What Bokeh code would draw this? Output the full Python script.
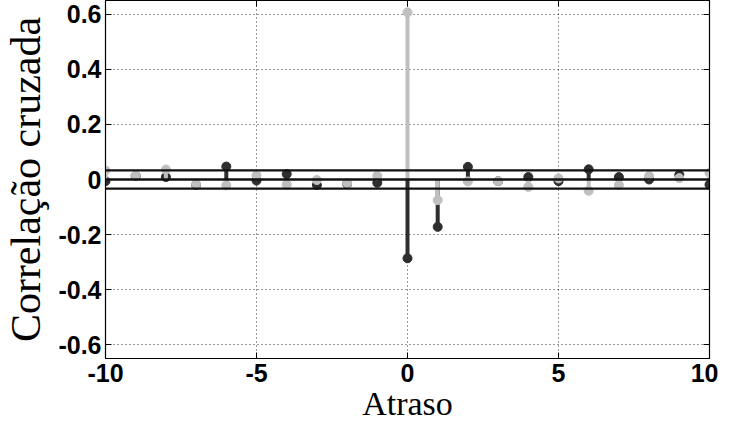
from bokeh.plotting import figure
from bokeh.models import Range1d, LinearAxis, FixedTicker, Span, ColumnDataSource
from bokeh.embed import file_html
from bokeh.resources import INLINE

lags = list(range(-10, 11))
dark_vals = [-0.006, 0.013, 0.009, -0.020, 0.047, -0.004, 0.020, -0.020, -0.016, -0.012,
             -0.286, -0.172, 0.046, -0.006, 0.009, -0.006, 0.037, 0.009, 0.000, 0.017, -0.019]
light_vals = [0.033, 0.015, 0.036, -0.018, -0.021, 0.015, -0.018, -0.002, -0.014, 0.013,
              0.607, -0.075, -0.007, -0.006, -0.027, 0.004, -0.041, -0.020, 0.013, 0.005, 0.024]
conf_bounds = [0.033, 0.0, -0.033]
x_ticks = [-10, -5, 0, 5, 10]
y_ticks = [-0.6, -0.4, -0.2, 0, 0.2, 0.4, 0.6]
y_tick_labels = {-0.6: "-0.6", -0.4: "-0.4", -0.2: "-0.2", 0: "0", 0.2: "0.2", 0.4: "0.4", 0.6: "0.6"}
x_tick_labels = {-10: "-10", -5: "-5", 0: "0", 5: "5", 10: "10"}

p = figure(frame_width=604, frame_height=358, output_backend="svg", toolbar_location=None,
           x_range=Range1d(-10, 10), y_range=Range1d(-0.65, 0.65),
           min_border_left=104, min_border_right=9, min_border_top=0, min_border_bottom=0)
p.outline_line_color = "black"
p.outline_line_width = 1.2
p.background_fill_color = "white"
p.border_fill_color = "white"

for ax in (p.xaxis[0], p.yaxis[0]):
    ax.major_tick_in = 6
    ax.major_tick_out = 0
    ax.minor_tick_in = 0
    ax.minor_tick_out = 0
    ax.axis_line_color = "black"
    ax.major_label_text_font = "Liberation Sans"
    ax.major_label_text_font_style = "bold"
    ax.major_label_text_font_size = "25px"
    ax.major_label_text_color = "black"
    ax.axis_label_text_font = "Liberation Serif"
    ax.axis_label_text_font_style = "normal"
    ax.axis_label_text_color = "black"

p.xaxis[0].ticker = FixedTicker(ticks=x_ticks)
p.xaxis[0].major_label_overrides = x_tick_labels
p.xaxis[0].axis_label = "Atraso"
p.xaxis[0].axis_label_text_font_size = "34px"
p.xaxis[0].axis_label_standoff = 0
p.xaxis[0].major_label_standoff = 5

p.yaxis[0].ticker = FixedTicker(ticks=y_ticks)
p.yaxis[0].major_label_overrides = y_tick_labels
p.yaxis[0].axis_label = "Correlação cruzada"
p.yaxis[0].axis_label_text_font_size = "42px"
p.yaxis[0].axis_label_standoff = 6
p.yaxis[0].major_label_standoff = 4

top_ax = LinearAxis(ticker=FixedTicker(ticks=x_ticks), major_tick_in=6, major_tick_out=0,
                    minor_tick_in=0, minor_tick_out=0, major_label_text_font_size="0px",
                    major_label_text_alpha=0, major_label_standoff=0)
right_ax = LinearAxis(ticker=FixedTicker(ticks=y_ticks), major_tick_in=6, major_tick_out=0,
                      minor_tick_in=0, minor_tick_out=0, major_label_text_font_size="0px",
                      major_label_text_alpha=0, major_label_standoff=0)
p.add_layout(top_ax, "above")
p.add_layout(right_ax, "right")

p.xgrid.ticker = FixedTicker(ticks=x_ticks)
p.ygrid.ticker = FixedTicker(ticks=y_ticks)
for g in (p.xgrid[0], p.ygrid[0]):
    g.grid_line_color = "black"
    g.grid_line_alpha = 0.8
    g.grid_line_dash = "1 3"
    g.grid_line_width = 1

dark_color = "#2e2e2e"
light_color = "#bfbfbf"

src = ColumnDataSource(dict(x=lags, d=dark_vals, l=light_vals, z=[0] * len(lags)))
p.segment(x0="x", y0="z", x1="x", y1="d", source=src, line_color=dark_color, line_width=4)
p.scatter(x="x", y="d", source=src, size=9, fill_color=dark_color, line_color=dark_color)
p.segment(x0="x", y0="z", x1="x", y1="l", source=src, line_color=light_color, line_width=4)
p.scatter(x="x", y="l", source=src, size=9, fill_color=light_color, line_color=light_color)

for b in conf_bounds:
    p.add_layout(Span(location=b, dimension="width", line_color="#111111", line_width=2.4))

open("out.html", "w").write(file_html(p, INLINE))
